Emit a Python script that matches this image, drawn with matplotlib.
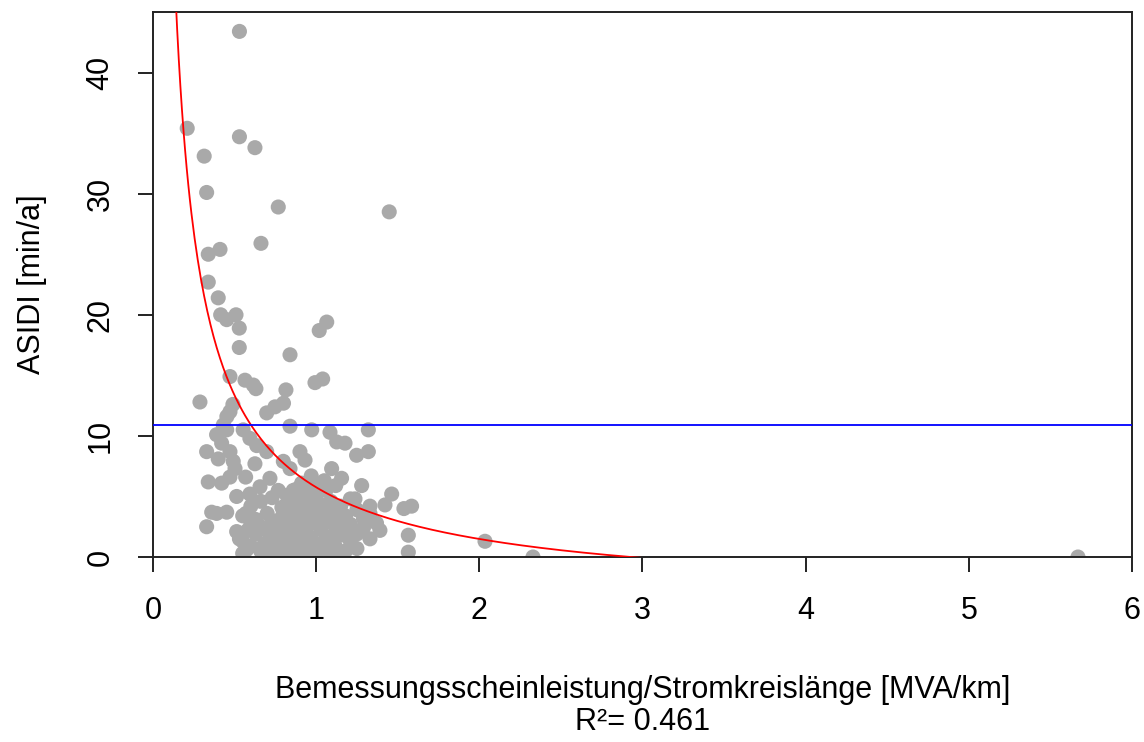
import numpy as np
import matplotlib
matplotlib.use("Agg")
import matplotlib.pyplot as plt

plt.rcParams["font.family"] = ["Liberation Sans", "DejaVu Sans"]

# measured networks: rated apparent power per circuit length vs. ASIDI
x_pts = [0.53, 0.21, 0.53, 0.625, 0.314, 0.329, 0.768, 1.448, 0.662, 0.339,
         0.411, 0.339, 0.40, 0.415, 0.452, 0.509, 0.529, 0.529, 0.84, 1.019,
         1.065, 0.472, 0.564, 0.615, 0.631, 0.815, 0.993, 1.04, 0.288, 0.80,
         0.49, 0.472, 0.453, 0.697, 0.748, 0.84, 0.973, 1.085, 1.126, 1.177,
         1.32, 1.248, 1.32, 0.39, 0.421, 0.452, 0.431, 0.329, 0.40, 0.472,
         0.553, 0.594, 0.636, 0.697, 0.625, 0.492, 0.901, 0.932, 0.799, 0.84,
         1.095, 1.156, 1.279, 1.463, 0.339, 0.421, 0.472, 0.503, 0.568, 0.717,
         0.656, 0.768, 0.513, 0.594, 0.86, 0.911, 1.044, 1.238, 1.33, 1.422,
         1.391, 0.329, 0.39, 0.452, 0.513, 0.574, 1.538, 1.585, 1.565, 1.565,
         2.035, 2.329, 5.669, 0.36, 0.57, 0.62, 0.78, 0.97, 1.05, 0.99,
         0.55, 0.55, 0.55, 0.60, 0.60, 0.60, 0.63, 0.63, 0.66, 0.66,
         0.66, 0.70, 0.70, 0.70, 0.70, 0.73, 0.73, 0.73, 0.76, 0.76,
         0.76, 0.79, 0.79, 0.79, 0.79, 0.82, 0.82, 0.82, 0.82, 0.82,
         0.85, 0.85, 0.85, 0.85, 0.88, 0.88, 0.88, 0.88, 0.88, 0.91,
         0.91, 0.91, 0.91, 0.94, 0.94, 0.94, 0.94, 0.94, 0.97, 0.97,
         0.97, 0.97, 0.97, 1.00, 1.00, 1.00, 1.00, 1.03, 1.03, 1.03,
         1.03, 1.06, 1.06, 1.06, 1.06, 1.09, 1.09, 1.09, 1.09, 1.12,
         1.12, 1.12, 1.12, 1.15, 1.15, 1.15, 1.18, 1.18, 1.18, 1.21,
         1.21, 1.21, 1.25, 1.25, 1.25, 1.29, 1.29, 1.33, 1.33, 1.37,
         0.53, 0.58, 0.68, 0.74, 0.93, 1.16]
y_pts = [43.4, 35.4, 34.7, 33.8, 33.1, 30.1, 28.9, 28.5, 25.9, 25.0,
         25.4, 22.7, 21.4, 20.0, 19.6, 20.0, 18.9, 17.3, 16.7, 18.7,
         19.4, 14.9, 14.6, 14.2, 13.9, 13.8, 14.4, 14.7, 12.8, 12.7,
         12.6, 12.0, 11.6, 11.9, 12.4, 10.8, 10.5, 10.3, 9.5, 9.4,
         10.5, 8.4, 8.7, 10.1, 9.4, 10.5, 10.9, 8.7, 8.1, 8.7,
         10.5, 9.8, 9.2, 8.7, 7.7, 7.9, 8.7, 8.0, 7.9, 7.3,
         7.3, 6.5, 5.9, 5.2, 6.2, 6.1, 6.6, 7.3, 6.6, 6.5,
         5.8, 5.5, 5.0, 5.2, 5.5, 6.1, 5.8, 4.8, 4.2, 4.3,
         2.2, 2.5, 3.6, 3.7, 2.1, 0.6, 4.0, 4.2, 1.8, 0.4,
         1.3, 0.0, 0.0, 3.7, 3.6, 2.6, 1.8, 6.7, 6.3, 0.0,
         3.4, 1.3, 0.3, 4.2, 2.8, 0.9, 3.1, 1.9, 4.6, 2.5,
         0.5, 3.6, 2.2, 1.2, 0.2, 4.9, 3.0, 1.6, 2.6, 1.0,
         0.1, 4.1, 3.3, 2.0, 0.6, 5.1, 3.8, 2.7, 1.4, 0.3,
         4.4, 3.2, 2.2, 0.9, 5.6, 3.9, 2.9, 1.8, 0.4, 4.7,
         3.5, 2.5, 1.2, 5.2, 4.1, 3.0, 2.1, 0.7, 6.0, 4.5,
         3.4, 1.6, 0.2, 5.0, 3.9, 2.8, 1.1, 4.3, 3.2, 2.3,
         0.6, 5.5, 3.7, 1.7, 0.9, 4.6, 2.9, 1.4, 0.3, 5.9,
         3.5, 2.4, 0.8, 4.2, 3.0, 1.8, 3.4, 2.2, 0.5, 4.8,
         2.7, 1.3, 3.9, 1.9, 0.7, 3.2, 2.4, 3.6, 1.5, 2.8,
         1.5, 2.2, 1.0, 0.0, 0.0, 0.0]

# power-law fit y = a * x^b + c and the mean ASIDI
fit_a, fit_b, fit_c = 9.76, -0.83, -4.0
mean_asidi = 10.9
r2 = 0.461

fig = plt.figure(figsize=(11.44, 7.42), dpi=100)
ax = fig.add_axes([0.1337, 0.2493, 0.8558, 0.7345])

ax.scatter(x_pts, y_pts, s=118, color="#A9A9A9", edgecolors="none", zorder=2)

xf = np.linspace(0.1, 3.0, 300)
ax.plot(xf, fit_a * xf ** fit_b + fit_c, color="red", lw=1.3, zorder=3)
ax.axhline(mean_asidi, color="blue", lw=1.3, zorder=3)

ax.set_xlim(0, 6)
ax.set_ylim(0, 45)
ax.set_xticks(range(0, 7))
ax.set_yticks(range(0, 50, 10))
for s in ax.spines.values():
    s.set_linewidth(1.4)
    s.set_color("#222222")
ax.tick_params(axis="both", direction="out", length=11, width=1.4,
               labelsize=22, color="#222222")
ax.tick_params(axis="x", pad=17)
ax.tick_params(axis="y", pad=16)
for lab in ax.get_yticklabels():
    lab.set_rotation(90)
    lab.set_va("center")

fig.text(0.5616, 0.070, "Bemessungsscheinleistung/Stromkreislänge [MVA/km]",
         ha="center", va="center", fontsize=22)
fig.text(0.5616, 0.027, f"R²= {r2}", ha="center", va="center", fontsize=22)
fig.text(0.028, 0.617, "ASIDI [min/a]", rotation=90, ha="center",
         va="center", fontsize=22)

fig.savefig("out.png", dpi=100)
